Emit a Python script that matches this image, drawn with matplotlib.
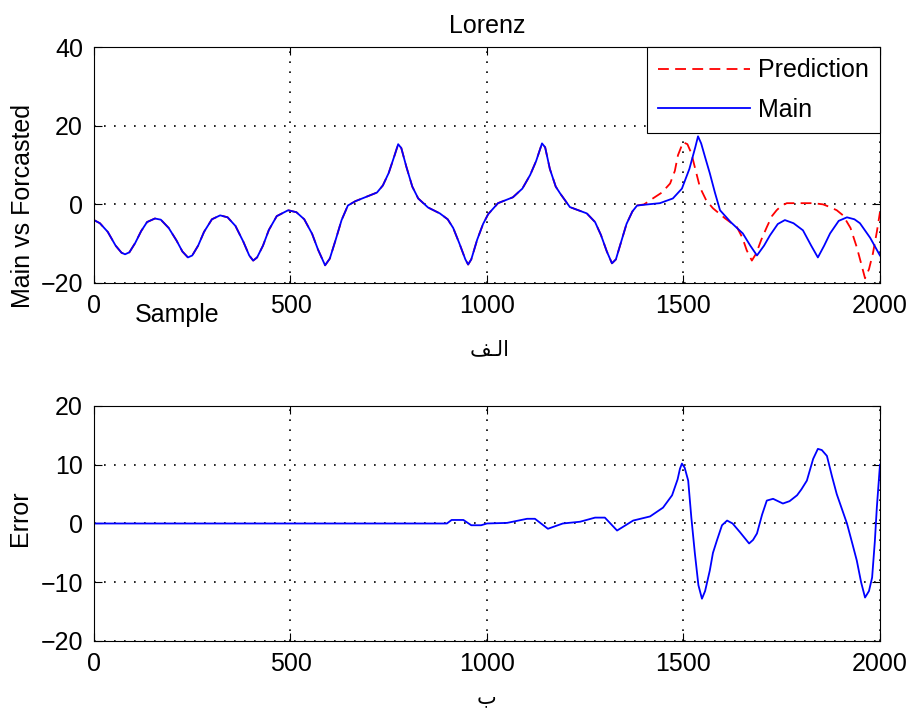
import matplotlib
matplotlib.use("Agg")
import matplotlib.pyplot as plt

# ---- data (sample index vs value) ----
MAIN_X = [0, 15, 35, 55, 70, 79, 90, 105, 120, 135, 155, 170, 190, 210, 225,
          239, 250, 265, 280, 300, 321, 340, 360, 380, 395, 405, 415, 430, 445,
          465, 494, 515, 535, 555, 570, 588, 600, 615, 630, 646, 665, 690, 720,
          735, 750, 765, 774, 782, 795, 810, 825, 850, 880, 900, 914, 930, 945,
          952, 960, 975, 990, 1003, 1028, 1066, 1090, 1110, 1125, 1140, 1148,
          1160, 1175, 1186, 1211, 1254, 1275, 1290, 1305, 1318, 1328, 1340, 1355,
          1370, 1382, 1410, 1440, 1473, 1496, 1515, 1530, 1537, 1545, 1555, 1567,
          1580, 1593, 1620, 1651, 1670, 1687, 1705, 1720, 1740, 1758, 1780, 1804,
          1825, 1842, 1858, 1873, 1895, 1916, 1935, 1949, 1975, 2000]
MAIN_Y = [-4, -4.8, -7, -10.5, -12.3, -12.7, -12.2, -9.8, -6.8, -4.5, -3.6,
          -3.9, -6, -9.2, -12, -13.5, -13, -10.5, -7, -3.8, -2.8, -3.3, -5.5,
          -9.5, -13, -14.3, -13.5, -10.5, -6.5, -3, -1.5, -2, -3.8, -7.5, -11.5,
          -15.5, -13.8, -9, -4, -0.3, 0.8, 1.8, 3, 4.8, 8, 12.5, 15.3, 14.3, 9.5,
          4.5, 1.5, -0.8, -2.3, -3.8, -6, -10, -14, -15.3, -14, -9, -5, -2.5, 0.3,
          1.8, 4, 7.5, 11, 15.5, 14.5, 9, 4.5, 2.8, -0.7, -2.3, -4.5, -7.8, -12,
          -15, -14, -10, -5, -1.8, -0.3, 0, 0.3, 1.5, 4, 9, 14.5, 17.3, 15.5, 12,
          7.9, 3, -1.5, -4.5, -7.4, -10.5, -13, -10.5, -7.9, -5, -4, -4.8, -6.6,
          -10.5, -13.5, -10.5, -7.4, -4.2, -3.3, -3.8, -4.8, -8.5, -13]

# prediction follows the main series up to ~1400, then drifts away
PRED_TAIL_X = [1400, 1422, 1445, 1466, 1478, 1486, 1499, 1510, 1520, 1530, 1542,
               1558, 1575, 1605, 1636, 1650, 1661, 1674, 1685, 1698, 1712, 1725,
               1737, 1750, 1763, 1800, 1830, 1855, 1873, 1890, 1906, 1925, 1941,
               1952, 1962, 1972, 1982, 1992, 2000]
PRED_TAIL_Y = [0, 1.5, 3, 5.3, 8.5, 12.5, 15.8, 15.3, 13, 9, 4.3, 1, -1, -3.5,
               -5.8, -8.5, -11.7, -14.3, -12.5, -9, -5.8, -3, -1.5, -0.3, 0.3,
               0.3, 0.3, 0, -0.7, -1.5, -2.8, -6, -10.9, -15, -18.8, -16.5, -12.5,
               -7, -2]
PRED_X = [x for x in MAIN_X if x < 1400] + PRED_TAIL_X
PRED_Y = [y for x, y in zip(MAIN_X, MAIN_Y) if x < 1400] + PRED_TAIL_Y

ERR_X = [0, 898, 910, 940, 960, 985, 1000, 1051, 1102, 1122, 1155, 1193, 1237,
         1275, 1300, 1331, 1372, 1415, 1448, 1471, 1485, 1491, 1496, 1503, 1512,
         1520, 1529, 1538, 1547, 1555, 1567, 1575, 1585, 1598, 1611, 1625, 1644,
         1667, 1677, 1687, 1700, 1712, 1728, 1753, 1770, 1789, 1800, 1814, 1830,
         1842, 1852, 1865, 1878, 1890, 1903, 1916, 1930, 1941, 1952, 1962, 1972,
         1980, 1987, 1992, 2000]
ERR_Y = [0, 0, 0.6, 0.6, -0.3, -0.3, 0, 0.1, 0.8, 0.8, -0.9, 0, 0.3, 1, 1, -1.2,
         0.5, 1.2, 2.7, 4.8, 7.5, 9.3, 10.2, 9.5, 7.3, 1, -5.1, -10.5, -12.8,
         -11.5, -8, -5, -2.9, -0.3, 0.5, 0, -1.5, -3.4, -2.8, -1.7, 1.5, 3.9,
         4.2, 3.4, 3.8, 4.8, 5.8, 7.3, 11, 12.7, 12.5, 11.5, 8, 5, 2.5, 0, -3.5,
         -6.3, -10, -12.6, -11.5, -9.2, -3, 2.7, 10]

X_TICKS = [0, 500, 1000, 1500, 2000]
TOP_YTICKS = [-20, 0, 20, 40]
BOT_YTICKS = [-20, -10, 0, 10, 20]

plt.rcParams["font.family"] = ["Liberation Sans", "DejaVu Sans"]
FS = 18
LW = 1.3
GRID = dict(color="black", linestyle=(0, (1, 5)), linewidth=1.2)


def style_axes(ax, yticks):
    ax.set_xlim(0, 2000)
    ax.set_ylim(yticks[0], yticks[-1])
    ax.set_xticks(X_TICKS)
    ax.set_yticks(yticks)
    ax.tick_params(direction="in", length=6, width=0.8, top=True, right=True,
                   labelsize=FS, pad=8, colors="black")
    for s in ax.spines.values():
        s.set_linewidth(0.8)
    ax.grid(True, **GRID)


fig = plt.figure(figsize=(9.1, 7.15), dpi=100, facecolor="white")

ax1 = fig.add_axes([0.1033, 0.6042, 0.8637, 0.330])
ax1.plot(PRED_X, PRED_Y, color="red", linestyle=(0, (6, 3.5)), linewidth=LW,
         label="Prediction")
ax1.plot(MAIN_X, MAIN_Y, color="blue", linewidth=LW, label="Main")
style_axes(ax1, TOP_YTICKS)
ax1.set_title("Lorenz", fontsize=FS, pad=10)
leg = ax1.legend(loc="upper right", borderaxespad=0, fancybox=False,
                 edgecolor="black", framealpha=1, fontsize=FS,
                 handlelength=3.7, handletextpad=0.3, labelspacing=0.62,
                 borderpad=0.45)
leg.get_frame().set_linewidth(0.8)

ax2 = fig.add_axes([0.1033, 0.1035, 0.8637, 0.3287])
ax2.plot(ERR_X, ERR_Y, color="blue", linewidth=LW)
style_axes(ax2, BOT_YTICKS)

fig.text(0.025, 0.712, "Main vs Forcasted", rotation=90, fontsize=FS,
         ha="center", va="center")
fig.text(0.022, 1 - 518 / 715, "Error", rotation=90, fontsize=FS,
         ha="center", va="center")
fig.text(177 / 910, 1 - 315 / 715, "Sample", fontsize=FS, ha="center",
         va="center")
# Arabic labels written in visual order with presentation forms
fig.text(490 / 910, 1 - 349 / 715, "\ufed2\u0640\ufedf\ufe8d", fontsize=15,
         ha="center", va="center", family=["DejaVu Sans"])
fig.text(487 / 910, 1 - 697 / 715, "\u0628", fontsize=15, ha="center",
         va="center", family=["DejaVu Sans"])

fig.savefig("out.png", dpi=100, facecolor="white")
